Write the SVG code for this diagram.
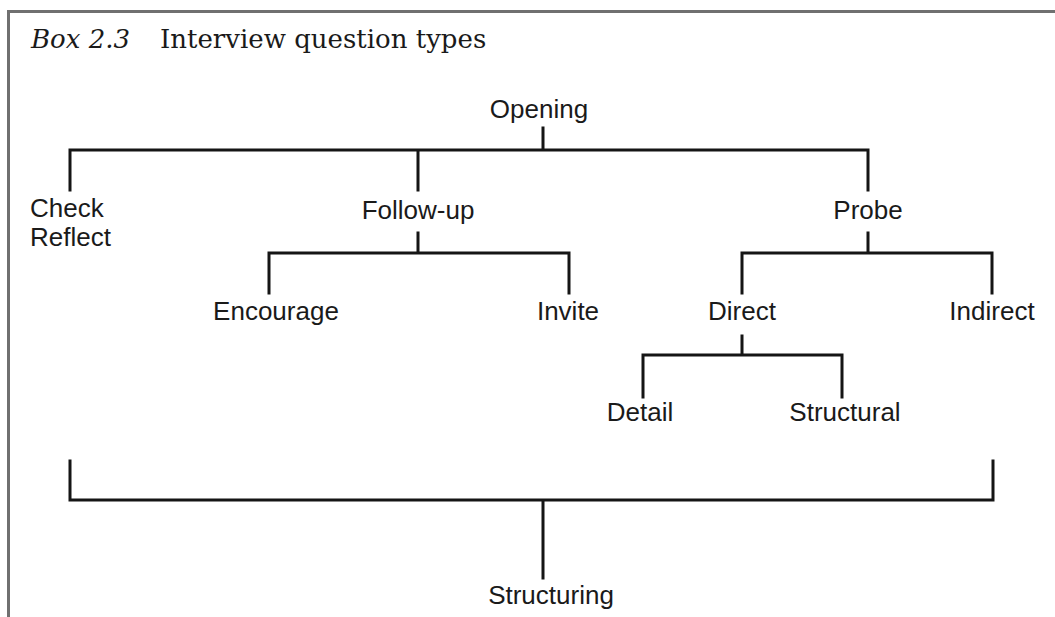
<svg xmlns="http://www.w3.org/2000/svg" width="1055" height="617" viewBox="0 0 1055 617">
<style>
.lbl{font-family:"Liberation Sans",Arial,sans-serif;font-size:26px;fill:#1a1a1a}
.c{text-anchor:middle}
.ln{fill:none;stroke:#151515;stroke-width:3;stroke-linejoin:miter;stroke-linecap:square}
.frame{fill:none;stroke:#707070;stroke-width:3}
.title{font-family:"DejaVu Serif","Liberation Serif",serif;font-size:26px;fill:#1a1a1a}
</style>
<rect width="1055" height="617" fill="#ffffff"/>
<path class="frame" d="M8.5,617 V11.5 H1055"/>
<g id="title"><text class="title" x="31" y="48"><tspan font-style="italic">Box 2.3</tspan><tspan x="160">Interview question types</tspan></text></g>
<g id="connectors">
<path class="ln" d="M543,128 V150 M70,190 V150 H868 V190 M418,150 V190"/>
<path class="ln" d="M418,233 V253 M269,293 V253 H569 V293"/>
<path class="ln" d="M868,233 V253 M742,293 V253 H992 V293"/>
<path class="ln" d="M742,336 V355 M643,397 V355 H842 V397"/>
<path class="ln" d="M70,461 V500 H993 V461 M543,500 V578"/>
</g>
<g id="opening"><text class="lbl c" x="539" y="118">Opening</text></g>
<g id="check-reflect"><text class="lbl" x="30" y="217">Check</text><text class="lbl" x="30" y="246">Reflect</text></g>
<g id="follow-up"><text class="lbl c" x="418" y="219">Follow-up</text></g>
<g id="probe"><text class="lbl c" x="868" y="219">Probe</text></g>
<g id="encourage"><text class="lbl c" x="276" y="320">Encourage</text></g>
<g id="invite"><text class="lbl c" x="568" y="320">Invite</text></g>
<g id="direct"><text class="lbl c" x="742" y="320">Direct</text></g>
<g id="indirect"><text class="lbl c" x="992" y="320">Indirect</text></g>
<g id="detail"><text class="lbl c" x="640" y="421">Detail</text></g>
<g id="structural"><text class="lbl c" x="845" y="421">Structural</text></g>
<g id="structuring"><text class="lbl c" x="551" y="604">Structuring</text></g>
</svg>
